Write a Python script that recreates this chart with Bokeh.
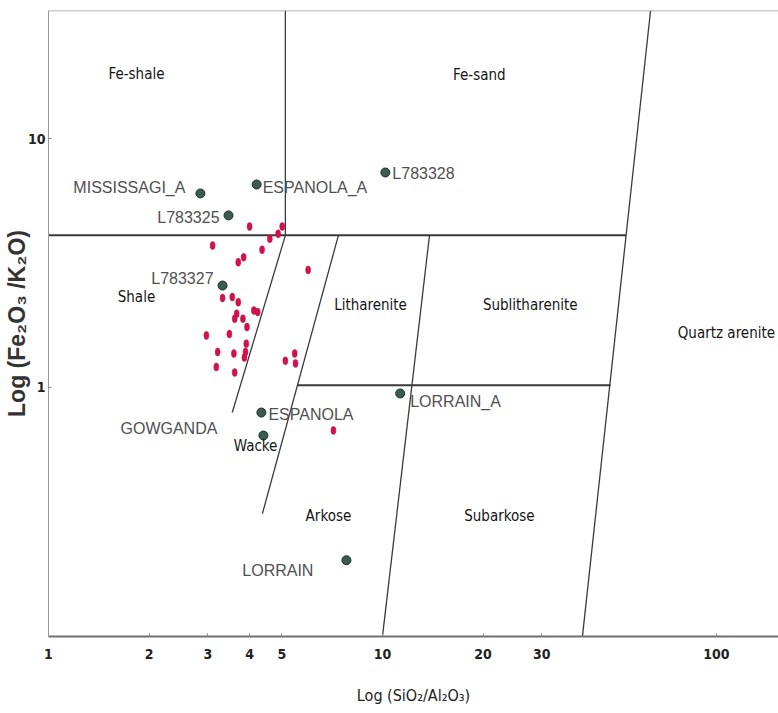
from bokeh.plotting import figure
from bokeh.models import (ColumnDataSource, FixedTicker, PrintfTickFormatter,
                          LabelSet, Span)
from bokeh.core.properties import value
from bokeh.embed import file_html
from bokeh.resources import INLINE

# Herron-type classification: log(SiO2/Al2O3) vs log(Fe2O3/K2O)

# Shale samples (red dots)
shale_sio2_al2o3 = [4.00, 5.01, 4.87, 4.60, 3.10, 4.36, 3.84, 3.70, 5.99, 3.32,
                    3.55, 3.70, 4.12, 4.23, 3.66, 3.61, 3.82, 3.93, 2.97, 3.48,
                    3.91, 3.89, 3.21, 3.59, 3.86, 5.46, 5.49, 5.12, 3.18, 3.61,
                    7.13]
shale_fe2o3_k2o = [4.44, 4.44, 4.15, 3.96, 3.72, 3.58, 3.34, 3.19, 2.97, 2.29,
                   2.31, 2.20, 2.04, 2.01, 1.98, 1.89, 1.89, 1.75, 1.62, 1.64,
                   1.50, 1.39, 1.39, 1.37, 1.32, 1.37, 1.25, 1.28, 1.21, 1.15,
                   0.672]

# Named formation averages (dark dots)
sample_names = ["MISSISSAGI_A", "ESPANOLA_A", "L783325", "L783328", "L783327",
                "ESPANOLA", "GOWGANDA", "LORRAIN", "LORRAIN_A"]
sample_sio2_al2o3 = [2.85, 4.20, 3.46, 10.2, 3.32, 4.34, 4.40, 7.80, 11.3]
sample_fe2o3_k2o = [6.03, 6.55, 4.92, 7.32, 2.57, 0.793, 0.641, 0.202, 0.946]

# Field boundaries (each entry is one straight segment: x pair, y pair)
boundary_x = [[1.0, 53.6], [5.12, 5.12], [5.12, 3.55], [7.38, 4.37],
              [5.57, 48.2], [13.83, 10.0], [63.5, 39.7]]
boundary_y = [[4.09, 4.09], [40.0, 4.09], [4.09, 0.793], [4.09, 0.311],
              [1.02, 1.02], [4.09, 0.0998], [32.8, 0.0998]]
boundary_w = [2.0, 1.3, 1.3, 1.3, 2.0, 1.3, 1.3]

# Field names
field_names = ["Fe-shale", "Fe-sand", "Shale", "Litharenite", "Sublitharenite",
               "Quartz arenite", "Wacke", "Arkose", "Subarkose"]
field_x = [1.834, 19.5, 1.834, 9.21, 27.7, 107.1, 4.17, 6.89, 22.4]
field_y = [18.3, 17.97, 2.32, 2.14, 2.14, 1.649, 0.584, 0.303, 0.303]

x_ticks = [1, 2, 3, 4, 5, 10, 20, 30, 100]
y_ticks = [1, 10]

NARROW = "DejaVu Sans Condensed"
SANS = "Liberation Sans"

p = figure(width=778, height=713, x_axis_type="log", y_axis_type="log",
           x_range=(1.0, 153.4), y_range=(0.0997, 32.8),
           output_backend="svg", toolbar_location=None,
           min_border_left=48, min_border_right=0, min_border_top=10,
           min_border_bottom=77)
p.background_fill_color = "white"
p.border_fill_color = "white"
p.outline_line_color = None
p.xgrid.visible = False
p.ygrid.visible = False

# axes
p.xaxis.ticker = FixedTicker(ticks=x_ticks, minor_ticks=[])
p.yaxis.ticker = FixedTicker(ticks=y_ticks, minor_ticks=[])
p.xaxis.formatter = PrintfTickFormatter(format="%d")
p.yaxis.formatter = PrintfTickFormatter(format="%d")
for ax in (p.xaxis, p.yaxis):
    ax.major_tick_in = 3
    ax.major_tick_out = 0
    ax.minor_tick_in = 0
    ax.minor_tick_out = 0
    ax.major_tick_line_color = "#888888"
    ax.major_label_text_font = NARROW
    ax.major_label_text_font_style = "bold"
    ax.major_label_text_font_size = "14px"
    ax.major_label_text_color = "#222222"
p.xaxis.axis_line_color = "#707070"
p.xaxis.axis_line_width = 2
p.yaxis.axis_line_color = "#999999"
p.yaxis.axis_line_width = 1
p.xaxis.major_label_standoff = 12
p.yaxis.major_label_standoff = 3

p.xaxis.axis_label = "Log (SiO\u2082/Al\u2082O\u2083)"
p.xaxis.axis_label_text_font = NARROW
p.xaxis.axis_label_text_font_style = "normal"
p.xaxis.axis_label_text_font_size = "16px"
p.xaxis.axis_label_text_color = "#222222"
p.xaxis.axis_label_standoff = 24

p.yaxis.axis_label = "Log (Fe\u2082O\u2083 /K\u2082O)"
p.yaxis.axis_label_text_font = SANS
p.yaxis.axis_label_text_font_style = "bold"
p.yaxis.axis_label_text_font_size = "23px"
p.yaxis.axis_label_text_color = "#333333"
p.yaxis.axis_label_standoff = -5

# top frame line
p.add_layout(Span(location=32.8, dimension="width", line_color="#999999",
                  line_width=1.5))

# field boundaries
p.multi_line(xs=boundary_x, ys=boundary_y, line_color="#3a3a3a",
             line_width=boundary_w)

# field names
field_src = ColumnDataSource(dict(x=field_x, y=field_y, name=field_names))
p.add_layout(LabelSet(x="x", y="y", text="name", source=field_src,
                      text_align="center", text_baseline="middle",
                      text_font=value(NARROW), text_font_size=value("15px"),
                      text_color="#151515"))

# shale analyses
p.ellipse(x=shale_sio2_al2o3, y=shale_fe2o3_k2o, width=5, height=8,
          width_units="screen", height_units="screen",
          fill_color="#d3124d", line_color="#c00d45", line_width=0.5)

# formation averages
sample_src = ColumnDataSource(dict(x=sample_sio2_al2o3, y=sample_fe2o3_k2o,
                                   name=sample_names))
p.scatter(x="x", y="y", source=sample_src, marker="circle", size=9,
          fill_color="#3a5c52", line_color="#1d2f29", line_width=1)

# sample labels: placement beside each dot
label_align = ["right", "left", "right", "left", "right", "left", "right",
               "right", "left"]
label_dx = [-15, 6, -9, 7, -9, 7, -46, -33, 10]
label_dy = [6, -3, -2, -1, 7, -2, 7, -10, -8]
label_src = ColumnDataSource(dict(x=sample_sio2_al2o3, y=sample_fe2o3_k2o,
                                  name=sample_names, align=label_align,
                                  dx=label_dx, dy=label_dy))
p.add_layout(LabelSet(x="x", y="y", text="name", source=label_src,
                      text_align="align", text_baseline="middle",
                      x_offset="dx", y_offset="dy",
                      text_font=value(SANS), text_font_size=value("16px"),
                      text_color="#505050"))

open("out.html", "w").write(file_html(p, INLINE))
